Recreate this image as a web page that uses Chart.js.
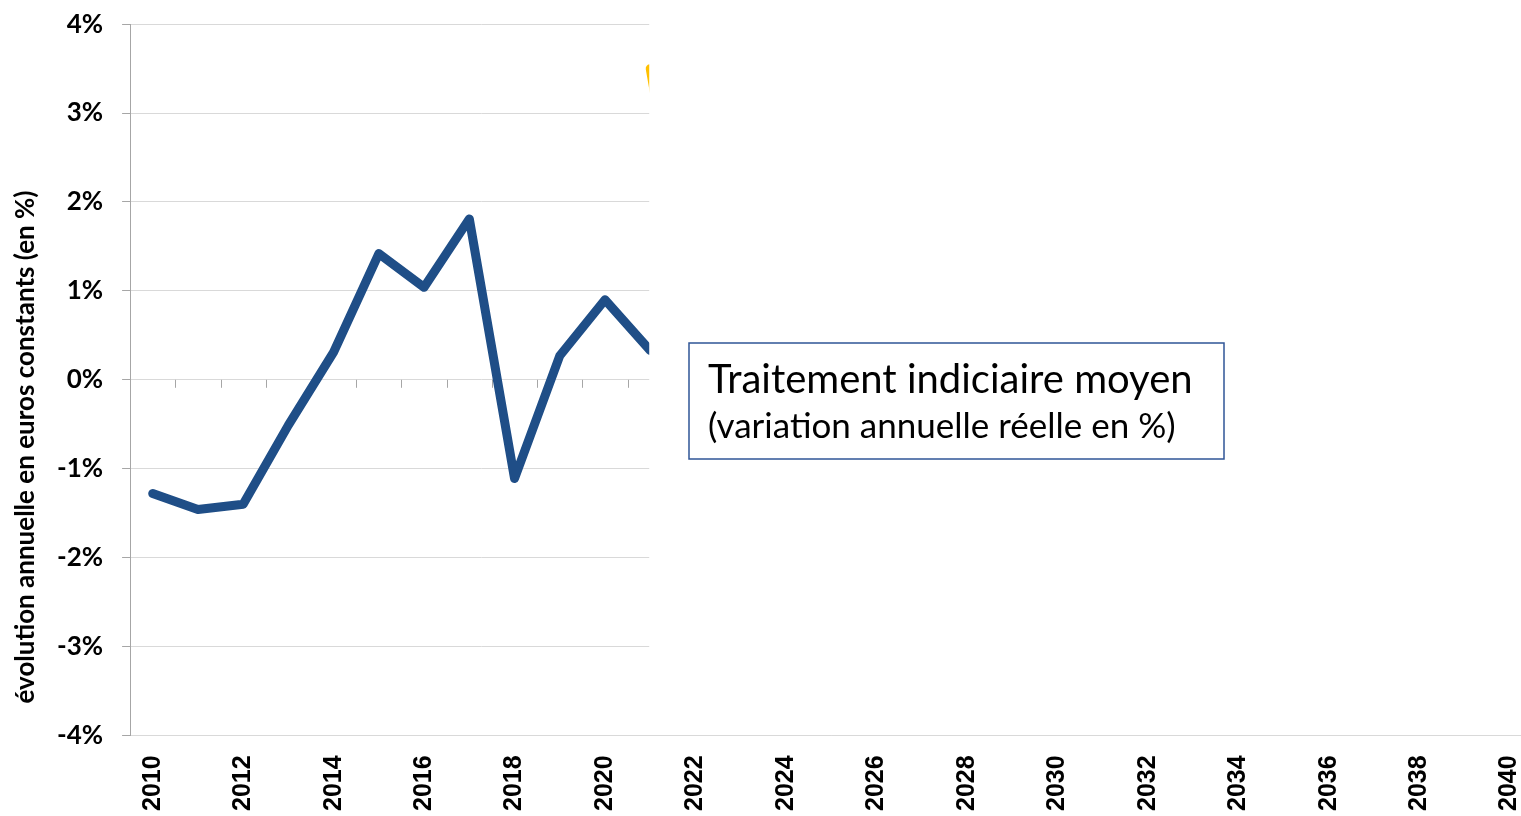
<!DOCTYPE html>
<html>
<head>
<meta charset="utf-8">
<script src="https://cdn.jsdelivr.net/npm/chart.js@4"></script>
<style>
  html, body { margin: 0; padding: 0; background: #fff; overflow: hidden; }
  #wrap { width: 1560px; height: 816px; }
</style>
</head>
<body>
<div id="wrap"><canvas id="chart" width="1560" height="816"></canvas></div>
<script>
// Données
const years = [];
for (let y = 2010; y <= 2040; y++) years.push(String(y));

// traitement indiciaire moyen, variation annuelle réelle (%)
const traitement = [-1.28, -1.46, -1.40, -0.51, 0.31, 1.42, 1.04, 1.81, -1.11, 0.27, 0.90, 0.33];
// série jaune, à peine visible au bord du masque
const projection = [null, null, null, null, null, null, null, null, null, null, null, 3.5, 0.6];

const yMin = -4, yMax = 4;
const yTitle = 'évolution annuelle en euros constants (en %)';
const boxTitle = 'Traitement indiciaire moyen';
const boxSub = '(variation annuelle réelle en %)';
const maskFrom = '2021'; // la partie droite du graphique est masquée

const calibri = 'Lato, "Noto Sans", sans-serif';

// petites graduations sur la ligne du 0
const zeroTicks = {
  id: 'zeroTicks',
  beforeDatasetsDraw(chart) {
    const x = chart.scales.x, y = chart.scales.y;
    const y0 = y.getPixelForValue(0);
    const ctx = chart.ctx;
    ctx.save();
    ctx.strokeStyle = '#a6a6a6';
    ctx.lineWidth = 1;
    for (let i = 1; i < years.length; i++) {
      let px = Math.round((x.getPixelForValue(i - 1) + x.getPixelForValue(i)) / 2) + 0.5;
      ctx.beginPath();
      ctx.moveTo(px, y0);
      ctx.lineTo(px, y0 + 8);
      ctx.stroke();
    }
    ctx.restore();
  }
};

// masque blanc + encadré + titre de l'axe
const overlay = {
  id: 'overlay',
  afterDatasetsDraw(chart) {
    const ctx = chart.ctx, a = chart.chartArea;
    const xm = chart.scales.x.getPixelForValue(years.indexOf(maskFrom)) - 1;
    ctx.save();
    ctx.fillStyle = '#fff';
    ctx.fillRect(xm, 0, chart.width - xm, a.bottom - 1);
    ctx.restore();
  },
  afterDraw(chart) {
    const ctx = chart.ctx;
    ctx.save();
    // encadré
    ctx.strokeStyle = '#2f5597';
    ctx.lineWidth = 1.5;
    ctx.strokeRect(689, 343, 535, 116);
    ctx.fillStyle = '#000';
    ctx.textBaseline = 'alphabetic';
    ctx.font = '40px ' + calibri;
    ctx.fillText(boxTitle, 708, 393);
    ctx.font = '35px ' + calibri;
    ctx.fillText(boxSub, 708, 438);
    // titre axe Y
    ctx.translate(26, 447);
    ctx.rotate(-Math.PI / 2);
    ctx.font = 'bold 26px ' + calibri;
    ctx.textAlign = 'center';
    ctx.textBaseline = 'middle';
    ctx.fillText(yTitle, 0, 0);
    ctx.restore();
  }
};

new Chart(document.getElementById('chart'), {
  type: 'line',
  data: {
    labels: years,
    datasets: [{
      label: 'Traitement indiciaire moyen',
      data: traitement,
      borderColor: '#1f4e87',
      borderWidth: 9,
      borderJoinStyle: 'round',
      borderCapStyle: 'round',
      pointRadius: 0,
      tension: 0
    }, {
      label: 'Projection',
      data: projection,
      borderColor: '#ffc000',
      borderWidth: 9,
      borderJoinStyle: 'round',
      borderCapStyle: 'round',
      pointRadius: 0,
      tension: 0
    }]
  },
  options: {
    responsive: false,
    animation: false,
    layout: { padding: { left: 38, top: 0, right: 25, bottom: -15 } },
    plugins: { legend: { display: false }, tooltip: { enabled: false } },
    scales: {
      x: {
        offset: true,
        grid: { display: false, drawTicks: false },
        border: { color: '#d9d9d9', width: 1 },
        ticks: {
          autoSkip: false,
          maxRotation: 90,
          minRotation: 90,
          padding: 20,
          color: '#000',
          font: { family: '"Liberation Sans", Arial, sans-serif', size: 25, weight: 'bold' },
          callback: function(v, i) { return (i % 2 === 0) ? years[i] : ''; }
        }
      },
      y: {
        min: yMin,
        max: yMax,
        grid: { color: '#d9d9d9', tickColor: '#a6a6a6', tickLength: 8 },
        border: { color: '#a6a6a6', width: 1 },
        ticks: {
          stepSize: 1,
          padding: 19,
          color: '#000',
          font: { family: calibri, size: 26, weight: 'bold', lineHeight: 0.4 },
          callback: v => v + '%'
        }
      }
    }
  },
  plugins: [zeroTicks, overlay]
});
</script>
</body>
</html>
